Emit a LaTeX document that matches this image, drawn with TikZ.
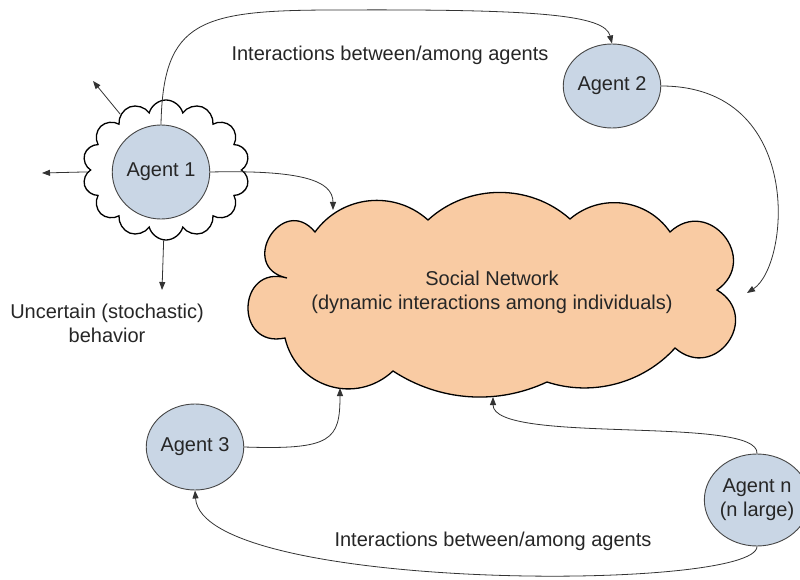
\documentclass[tikz,border=0pt]{standalone}
\usepackage{fontspec}
\setmainfont{Liberation Sans}
\usetikzlibrary{shapes.geometric,shapes.symbols,arrows.meta,calc}

\definecolor{agentfill}{RGB}{201,214,229}
\definecolor{netfill}{RGB}{249,203,163}
\definecolor{rimgray}{RGB}{70,70,70}

\begin{document}
\begin{tikzpicture}[x=1pt,y=-1pt,
  txt/.style={font=\fontsize{20}{24}\selectfont, align=center, text=black!85},
  agent/.style={ellipse, draw=rimgray, fill=agentfill, line width=0.9pt,
    inner sep=0pt, txt},
  outline/.style={draw=black, line width=1.3pt},
  puffy/.style={cloud, cloud ignores aspect, outline, inner sep=0pt},
  link/.style={draw=black!80, line width=0.8pt,
    -{Triangle[length=8pt,width=6pt]}}]
\useasboundingbox (0,0) rectangle (800,580);

% social network cloud: ten circular-ish puffs between the valley points v0..v9
\path (717,290) coordinate (v0)  (675,348) coordinate (v1)
      (547,382) coordinate (v2)  (393,371) coordinate (v3)
      (285,338) coordinate (v4)  (287,278) coordinate (v5)
      (315,232) coordinate (v6)  (428,220) coordinate (v7)
      (570,219) coordinate (v8)  (670,232) coordinate (v9);
\draw[outline, fill=netfill]
  (v0) .. controls ($(v0)!0.74!95:(v1)$)  and ($(v1)!0.74!-95:(v0)$)  .. (v1)
       .. controls ($(v1)!0.36!33:(v2)$)  and ($(v2)!0.36!-33:(v1)$)  .. (v2)
       .. controls ($(v2)!0.36!29:(v3)$)  and ($(v3)!0.36!-29:(v2)$)  .. (v3)
       .. controls ($(v3)!0.45!60:(v4)$)  and ($(v4)!0.45!-60:(v3)$)  .. (v4)
       .. controls ($(v4)!0.87!104:(v5)$) and ($(v5)!0.87!-104:(v4)$) .. (v5)
       .. controls ($(v5)!0.95!109:(v6)$) and ($(v6)!0.95!-109:(v5)$) .. (v6)
       .. controls ($(v6)!0.40!48:(v7)$)  and ($(v7)!0.40!-48:(v6)$)  .. (v7)
       .. controls ($(v7)!0.38!42:(v8)$)  and ($(v8)!0.38!-42:(v7)$)  .. (v8)
       .. controls ($(v8)!0.40!48:(v9)$)  and ($(v9)!0.40!-48:(v8)$)  .. (v9)
       .. controls ($(v9)!0.71!94:(v0)$)  and ($(v0)!0.71!-94:(v9)$)  .. (v0)
  -- cycle;
\node[txt] (sn) at (492,292)
  {Social Network\\(dynamic interactions among individuals)};
% where incoming connectors meet the cloud
\coordinate (sn-a1) at (333,210);
\coordinate (sn-a2) at (747,293);
\coordinate (sn-a3) at (340,388);
\coordinate (sn-an) at (493,397);

% uncertainty halo round agent 1
\node[puffy, cloud puffs=14, fill=white,
      minimum width=167pt, minimum height=140pt] (halo) at (166,170) {};

% agents
\node[agent, minimum width=94pt, minimum height=94pt] (a1) at (161,172) {Agent 1};
\node[agent, minimum width=88pt, minimum height=84pt] (a2) at (612,86) {Agent 2};
\node[agent, minimum width=94pt, minimum height=86pt] (a3) at (195,447) {Agent 3};
\node[agent, minimum width=88pt, minimum height=92pt] (an) at (757,500) {Agent n\\(n large)};

% stochastic behaviour arrows
\coordinate (u1) at (93,81);
\coordinate (u2) at (42,173);
\coordinate (u3) at (162,290);
\draw[link] (halo) -- (u1);
\draw[link] (halo) -- (u2);
\draw[link] (halo) -- (u3);

% interactions
\draw[link] (a1.north) .. controls (163,20) and (200,10) .. (337,10)
            .. controls (540,9) and (605,15) .. (a2.north);
\draw[link] (a2.east) .. controls (805,86) and (790,265) .. (sn-a2);
\draw[link] (a1.east) .. controls (300,170) and (333,180) .. (sn-a1);
\draw[link] (a3.east) .. controls (332,450) and (340,440) .. (sn-a3);
\draw[link] (an.north) .. controls (760,415) and (493,445) .. (sn-an);
\draw[link] (an.south) .. controls (757,592) and (202,592) .. (a3.south);

% labels
\node[txt] (lblTop) at (390,55) {Interactions between/among agents};
\node[txt] (lblBot) at (493,541) {Interactions between/among agents};
\node[txt] (lblUnc) at (107,323) {Uncertain (stochastic)\\behavior};
\end{tikzpicture}
\end{document}
